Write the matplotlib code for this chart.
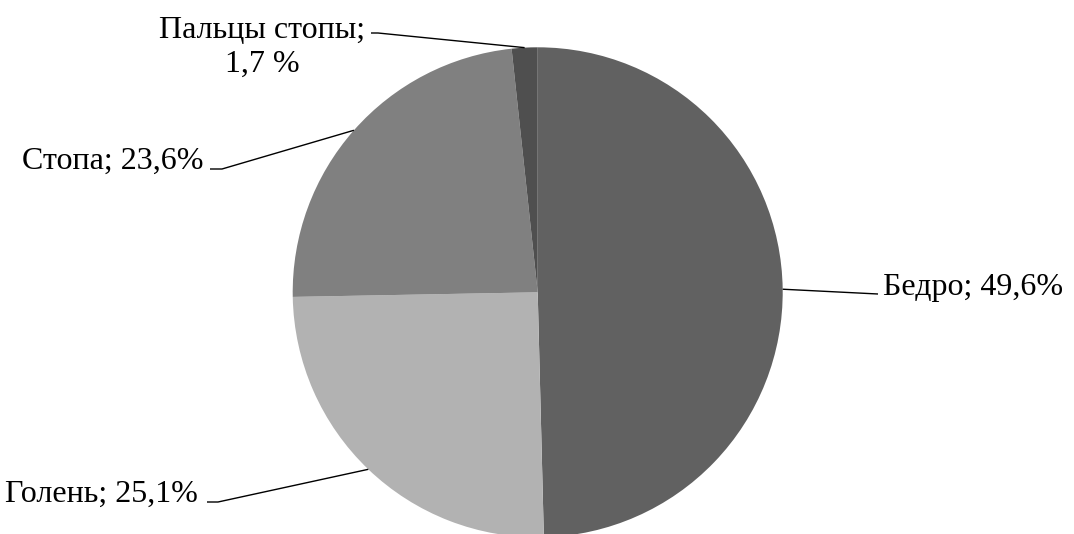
import matplotlib
matplotlib.use("Agg")
import matplotlib.pyplot as plt
import numpy as np

# ── Data ────────────────────────────────────────────────────────
labels = ["Бедро", "Голень", "Стопа", "Пальцы стопы"]
values = [49.6, 25.1, 23.6, 1.7]
value_text = ["49,6%", "25,1%", "23,6%", "1,7 %"]
colors = ["#616161", "#b2b2b2", "#808080", "#4f4f4f"]

# ── Figure (1 data unit = 1 pixel) ──────────────────────────────
W, H = 1074, 534
fig = plt.figure(figsize=(W / 100, H / 100), dpi=100)
ax = fig.add_axes([0, 0, 1, 1])

cx, cy, r = 537.7, H - 292.3, 245
wedges, _ = ax.pie(values, colors=colors, startangle=90, counterclock=False,
                   center=(cx, cy), radius=r, wedgeprops=dict(linewidth=0))
ax.set_xlim(0, W)
ax.set_ylim(0, H)
ax.set_aspect("equal")
ax.axis("off")

font = dict(family="Liberation Serif", fontsize=23, color="black")

# label placement: (text x, baseline y from top, ha, leader path in px from top)
placement = {
    "Бедро":        ((883, 295), "left",   [(878, 294)]),
    "Голень":       ((198, 502), "right",  [(218, 502), (207, 502)]),
    "Стопа":        ((204, 169), "right",  [(222, 169), (210, 169)]),
    "Пальцы стопы": ((262, 72),  "center", [(378, 33), (371, 33)]),
}

for w, lab, vt in zip(wedges, labels, value_text):
    ang = np.deg2rad((w.theta1 + w.theta2) / 2)
    px, py = cx + r * np.cos(ang), cy + r * np.sin(ang)
    (tx, ty), ha, path = placement[lab]
    xs = [px] + [p[0] for p in path]
    ys = [py] + [H - p[1] for p in path]
    ax.plot(xs, ys, color="black", lw=1.0, solid_capstyle="butt")
    if lab == "Пальцы стопы":
        txt = f"{lab};\n{vt}"
    else:
        txt = f"{lab}; {vt}"
    ax.text(tx, H - ty, txt, ha=ha, va="baseline", multialignment="center",
            linespacing=1.25, **font)

fig.savefig("out.png", dpi=100, facecolor="white")
